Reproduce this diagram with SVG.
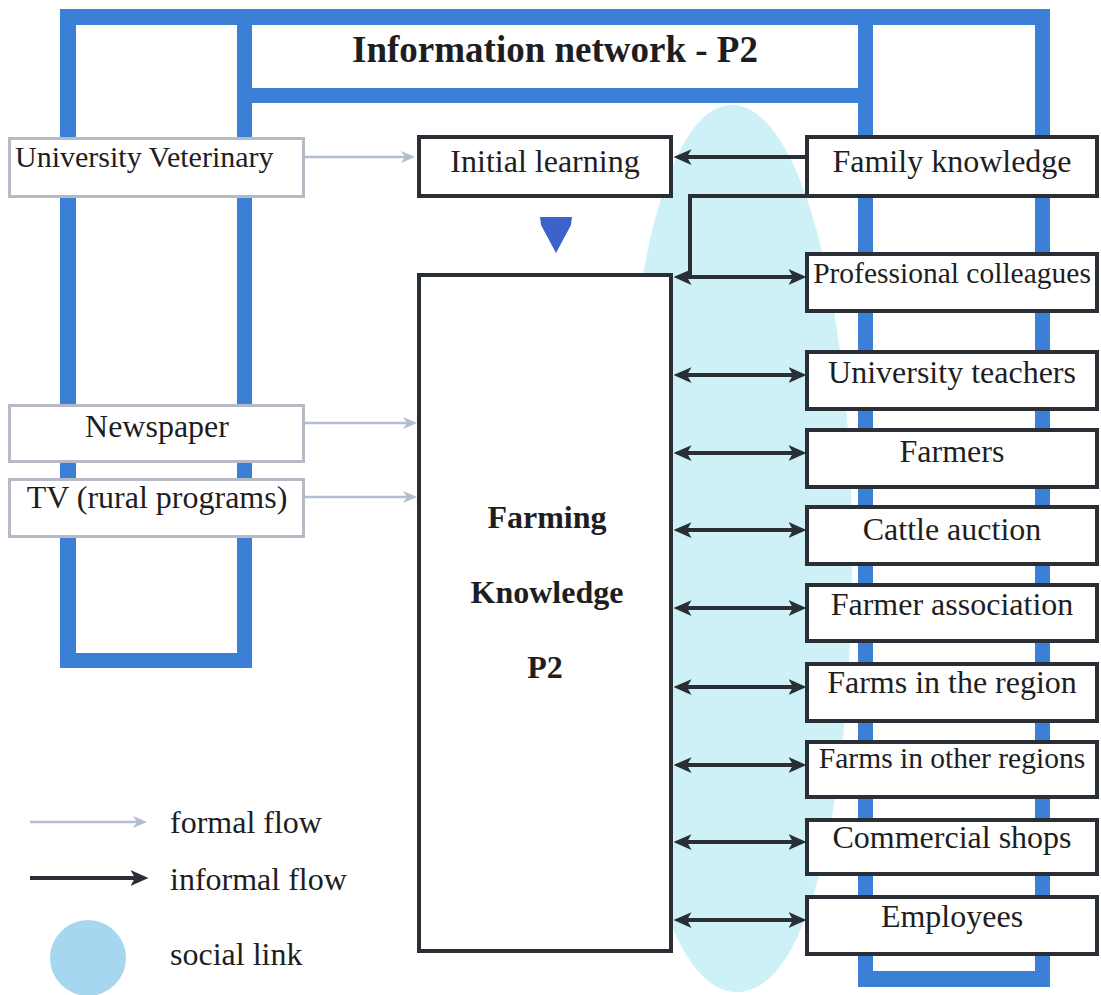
<svg xmlns="http://www.w3.org/2000/svg" width="1101" height="995" viewBox="0 0 1101 995">
  <style>
    .t { font-family: "Liberation Serif", "Times New Roman", serif; fill: #1e1e22; }
    .b { font-weight: bold; }
    .frame { fill: #3b80d6; }
    .formal { fill: #ffffff; stroke: #b6bac7; stroke-width: 3; }
    .informal { fill: #ffffff; stroke: #2a2e35; stroke-width: 4; }
    .fline { stroke: #b3bdd0; stroke-width: 2.5; fill: none; }
    .iline { stroke: #2a2e35; stroke-width: 4; fill: none; }
  </style>
  <defs>
    <marker id="headDark" markerUnits="userSpaceOnUse" markerWidth="18" markerHeight="16" viewBox="0 0 16 14" refX="4" refY="7" orient="auto-start-reverse">
      <path d="M0,0 L16,7 L0,14 L4,7 Z" fill="#2a2e35"/>
    </marker>
    <marker id="headLight" markerUnits="userSpaceOnUse" markerWidth="14" markerHeight="12" viewBox="0 0 14 12" refX="4" refY="6" orient="auto">
      <path d="M0,0 L14,6 L0,12 L4,6 Z" fill="#b3bdd0"/>
    </marker>
  </defs>

  <rect width="1101" height="995" fill="#ffffff"/>

  <!-- social link area -->
  <path id="social-area" d="M732 105 C800 105 852 300 852 550 C852 800 810 992 737 992 C664 992 622 800 622 550 C622 300 664 105 732 105 Z" fill="#cdf1f7"/>

  <!-- blue frame -->
  <g id="frame" class="frame">
    <rect x="60" y="9" width="990" height="16"/>
    <rect x="60" y="9" width="16" height="659"/>
    <rect x="237" y="9" width="15" height="659"/>
    <rect x="60" y="653" width="192" height="15"/>
    <rect x="237" y="88" width="636" height="15"/>
    <rect x="858" y="9" width="15" height="978"/>
    <rect x="1035" y="9" width="15" height="978"/>
    <rect x="858" y="971" width="192" height="16"/>
  </g>

  <g id="title">
    <text class="t b" x="555" y="62" font-size="37" text-anchor="middle">Information network - P2</text>
  </g>

  <!-- formal sources -->
  <g id="university-veterinary">
    <rect class="formal" x="9.5" y="138.5" width="294" height="58"/>
    <text class="t" x="15" y="167" font-size="30">University Veterinary</text>
  </g>
  <g id="newspaper">
    <rect class="formal" x="9.5" y="405.5" width="294" height="56"/>
    <text class="t" x="157" y="437" font-size="32" text-anchor="middle">Newspaper</text>
  </g>
  <g id="tv">
    <rect class="formal" x="9.5" y="479.5" width="294" height="57"/>
    <text class="t" x="157" y="508" font-size="32" text-anchor="middle">TV (rural programs)</text>
  </g>

  <!-- central nodes -->
  <g id="initial-learning">
    <rect class="informal" x="419" y="137" width="252" height="59"/>
    <text class="t" x="545" y="172" font-size="32" text-anchor="middle">Initial learning</text>
  </g>
  <g id="farming-knowledge">
    <rect class="informal" x="419" y="275" width="252" height="676"/>
    <text class="t b" x="547" y="528" font-size="32" text-anchor="middle">Farming</text>
    <text class="t b" x="547" y="603" font-size="32" text-anchor="middle">Knowledge</text>
    <text class="t b" x="545" y="678" font-size="32" text-anchor="middle">P2</text>
  </g>
  <polygon id="learning-to-knowledge" points="540,217 572,217 571,225 556,253 541,225" fill="#3d62c9"/>

  <!-- informal sources -->
  <g id="family-knowledge">
    <rect class="informal" x="807" y="137" width="290" height="59"/>
    <text class="t" x="952" y="172" font-size="32" text-anchor="middle">Family knowledge</text>
  </g>
  <g id="professional-colleagues">
    <rect class="informal" x="807" y="254" width="290" height="57"/>
    <text class="t" x="952" y="283" font-size="29.5" text-anchor="middle">Professional colleagues</text>
  </g>
  <g id="university-teachers">
    <rect class="informal" x="807" y="352" width="290" height="57"/>
    <text class="t" x="952" y="383" font-size="32" text-anchor="middle">University teachers</text>
  </g>
  <g id="farmers">
    <rect class="informal" x="807" y="430" width="290" height="57"/>
    <text class="t" x="952" y="462" font-size="32" text-anchor="middle">Farmers</text>
  </g>
  <g id="cattle-auction">
    <rect class="informal" x="807" y="507" width="290" height="57"/>
    <text class="t" x="952" y="540" font-size="32" text-anchor="middle">Cattle auction</text>
  </g>
  <g id="farmer-association">
    <rect class="informal" x="807" y="585" width="290" height="56"/>
    <text class="t" x="952" y="615" font-size="32" text-anchor="middle">Farmer association</text>
  </g>
  <g id="farms-region">
    <rect class="informal" x="807" y="664" width="290" height="57"/>
    <text class="t" x="952" y="693" font-size="32" text-anchor="middle">Farms in the region</text>
  </g>
  <g id="farms-other-regions">
    <rect class="informal" x="807" y="742" width="290" height="55"/>
    <text class="t" x="952" y="768" font-size="29.5" text-anchor="middle">Farms in other regions</text>
  </g>
  <g id="commercial-shops">
    <rect class="informal" x="807" y="820" width="290" height="54"/>
    <text class="t" x="952" y="848" font-size="32" text-anchor="middle">Commercial shops</text>
  </g>
  <g id="employees">
    <rect class="informal" x="807" y="897" width="290" height="57"/>
    <text class="t" x="952" y="927" font-size="32" text-anchor="middle">Employees</text>
  </g>

  <!-- flows -->
  <g id="connectors">
    <line class="fline" x1="305" y1="157" x2="405" y2="157" marker-end="url(#headLight)"/>
    <line class="fline" x1="305" y1="423" x2="407" y2="423" marker-end="url(#headLight)"/>
    <line class="fline" x1="305" y1="497" x2="407" y2="497" marker-end="url(#headLight)"/>

    <line class="iline" x1="806" y1="157" x2="687" y2="157" marker-end="url(#headDark)"/>
    <polyline class="iline" points="806,196 690,196 690,277"/>

    <line class="iline" x1="687" y1="277" x2="793" y2="277" marker-start="url(#headDark)" marker-end="url(#headDark)"/>
    <line class="iline" x1="687" y1="375" x2="793" y2="375" marker-start="url(#headDark)" marker-end="url(#headDark)"/>
    <line class="iline" x1="687" y1="453" x2="793" y2="453" marker-start="url(#headDark)" marker-end="url(#headDark)"/>
    <line class="iline" x1="687" y1="530" x2="793" y2="530" marker-start="url(#headDark)" marker-end="url(#headDark)"/>
    <line class="iline" x1="687" y1="608" x2="793" y2="608" marker-start="url(#headDark)" marker-end="url(#headDark)"/>
    <line class="iline" x1="687" y1="687" x2="793" y2="687" marker-start="url(#headDark)" marker-end="url(#headDark)"/>
    <line class="iline" x1="687" y1="765" x2="793" y2="765" marker-start="url(#headDark)" marker-end="url(#headDark)"/>
    <line class="iline" x1="687" y1="842" x2="793" y2="842" marker-start="url(#headDark)" marker-end="url(#headDark)"/>
    <line class="iline" x1="687" y1="920" x2="793" y2="920" marker-start="url(#headDark)" marker-end="url(#headDark)"/>
  </g>

  <!-- legend -->
  <g id="legend">
    <line class="fline" x1="30" y1="822" x2="137" y2="822" marker-end="url(#headLight)"/>
    <text class="t" x="170" y="833" font-size="32">formal flow</text>
    <line class="iline" x1="30" y1="878" x2="135" y2="878" marker-end="url(#headDark)"/>
    <text class="t" x="170" y="890" font-size="32">informal flow</text>
    <circle cx="88" cy="958" r="38" fill="#a6d6f0"/>
    <text class="t" x="170" y="965" font-size="32">social link</text>
  </g>
</svg>
